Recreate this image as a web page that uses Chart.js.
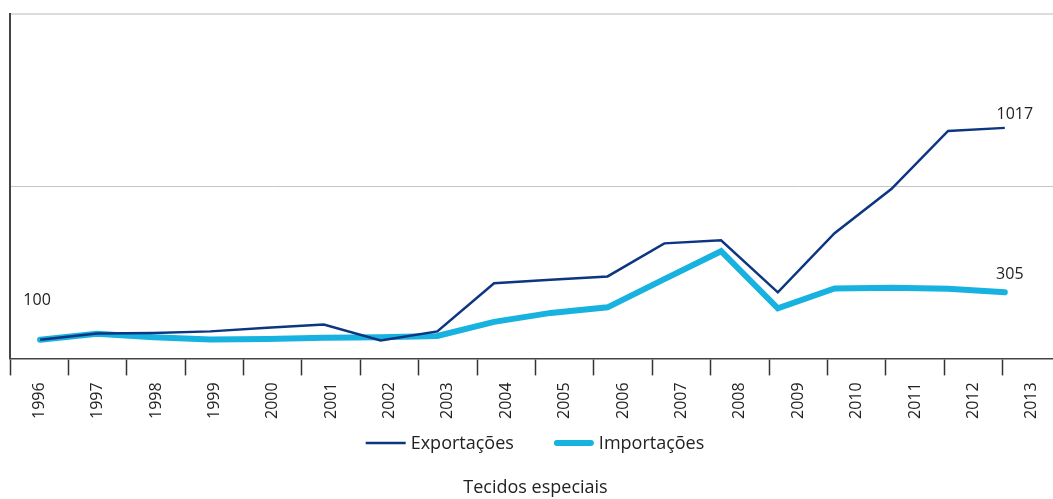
<!DOCTYPE html>
<html>
<head>
<meta charset="utf-8">
<title>Tecidos especiais</title>
<script src="https://cdn.jsdelivr.net/npm/chart.js@4.4.1/dist/chart.umd.min.js"></script>
<style>
  html, body { margin: 0; padding: 0; background: #fff; overflow: hidden; }
  #wrap { width: 1070px; height: 499px; }
</style>
</head>
<body>
<div id="wrap"><canvas id="chart" width="1070" height="499"></canvas></div>
<script>
// Years on the x axis
const years = ['1996', '1997', '1998', '1999', '2000', '2001', '2002', '2003', '2004',
               '2005', '2006', '2007', '2008', '2009', '2010', '2011', '2012', '2013'];

// Index, 1996 = 100
const exportacoes = [100, 127, 129, 136, 152, 166, 97, 136, 344,
                     359, 374, 517, 530, 305, 561, 752, 1004, 1017];

const importacoes = [100, 126, 111, 101, 103, 108, 111, 116, 177,
                     216, 240, 362, 483, 236, 322, 325, 321, 305];

const FONT = '"Open Sans", "Noto Sans", sans-serif';
Chart.defaults.font.family = FONT;
Chart.defaults.color = '#222';

// numbers written next to the start and end of the lines
const valueLabels = {
  id: 'valueLabels',
  afterDatasetsDraw(chart) {
    const ctx = chart.ctx;
    const exp = chart.getDatasetMeta(0).data;
    const imp = chart.getDatasetMeta(1).data;
    const last = exp.length - 1;
    ctx.save();
    ctx.font = '16px ' + FONT;
    ctx.fillStyle = '#222';
    ctx.textAlign = 'center';
    ctx.textBaseline = 'middle';
    ctx.fillText(String(exportacoes[0]), exp[0].x - 3, exp[0].y - 39);
    ctx.fillText(String(exportacoes[last]), exp[last].x + 10, exp[last].y - 13);
    ctx.fillText(String(importacoes[last]), imp[last].x + 5, imp[last].y - 18);
    ctx.restore();
  }
};

// legend row: a line sample in each dataset's own width, then its label
const lineLegend = {
  id: 'lineLegend',
  afterDraw(chart, args, opts) {
    const ctx = chart.ctx;
    const sets = chart.data.datasets;
    ctx.save();
    ctx.font = '18px ' + FONT;
    ctx.textBaseline = 'middle';
    const widths = sets.map(ds => opts.sample + opts.gap + ctx.measureText(ds.label).width);
    const total = widths.reduce((a, b) => a + b, 0) + opts.spacing * (sets.length - 1);
    let x = (chart.width - total) / 2;
    const y = opts.y;
    sets.forEach((ds, i) => {
      const round = ds.borderCapStyle === 'round';
      const inset = round ? ds.borderWidth / 2 : 0;
      ctx.strokeStyle = ds.borderColor;
      ctx.lineWidth = ds.borderWidth;
      ctx.lineCap = round ? 'round' : 'butt';
      ctx.beginPath();
      ctx.moveTo(x + inset, y);
      ctx.lineTo(x + opts.sample - inset, y);
      ctx.stroke();
      ctx.fillStyle = '#222';
      ctx.fillText(ds.label, x + opts.sample + opts.gap, y + 1);
      x += widths[i] + opts.spacing;
    });
    ctx.restore();
  }
};

const ctx = document.getElementById('chart');

new Chart(ctx, {
  type: 'line',
  data: {
    labels: years,
    datasets: [
      {
        label: 'Exportações',
        data: years.map((yr, i) => ({ x: Number(yr), y: exportacoes[i] })),
        xAxisID: 'xd',
        borderColor: '#0c3681',
        backgroundColor: '#0c3681',
        borderWidth: 2.5,
        pointRadius: 0,
        tension: 0
      },
      {
        label: 'Importações',
        data: years.map((yr, i) => ({ x: Number(yr), y: importacoes[i] })),
        xAxisID: 'xd',
        borderColor: '#17b2df',
        backgroundColor: '#17b2df',
        borderWidth: 6,
        borderCapStyle: 'round',
        pointRadius: 0,
        tension: 0
      }
    ]
  },
  options: {
    responsive: false,
    animation: false,
    layout: { padding: { left: 10, right: 9, top: 14, bottom: 0 } },
    scales: {
      // visible axis: year bands with tick marks between them
      x: {
        type: 'category',
        offset: true,
        grid: { offset: true, drawOnChartArea: false, tickLength: 17, tickColor: '#333', tickWidth: 1.5 },
        border: { color: '#444', width: 1.5 },
        ticks: { minRotation: 90, maxRotation: 90, autoSkip: false, padding: 7, font: { size: 16 }, color: '#222' },
        afterFit: axis => { axis.height = 62; }
      },
      // the lines run on their own, slightly tighter year scale
      xd: {
        type: 'linear',
        display: false,
        min: 1995.47,
        max: 2013.99
      },
      y: {
        min: 19,
        max: 1510,
        afterBuildTicks: axis => {
          axis.ticks = [axis.min, (axis.min + axis.max) / 2, axis.max].map(v => ({ value: v }));
        },
        ticks: { display: false },
        grid: {
          drawTicks: false,
          color: c => c.index === 0 ? 'rgba(0,0,0,0)' : (c.index === 2 ? '#dcdcdc' : '#c4c4c4'),
          lineWidth: c => c.index === 2 ? 2 : 1
        },
        border: { color: '#444', width: 2 }
      }
    },
    plugins: {
      legend: { display: false },
      lineLegend: { y: 443, sample: 40, gap: 5, spacing: 40 },
      title: {
        display: true,
        text: 'Tecidos especiais',
        position: 'bottom',
        font: { size: 18, weight: 'normal' },
        color: '#222',
        // room for the legend row sits in the title's top padding
        padding: { top: 57, bottom: 0 }
      },
      tooltip: { enabled: false }
    }
  },
  plugins: [valueLabels, lineLegend]
});
</script>
</body>
</html>
